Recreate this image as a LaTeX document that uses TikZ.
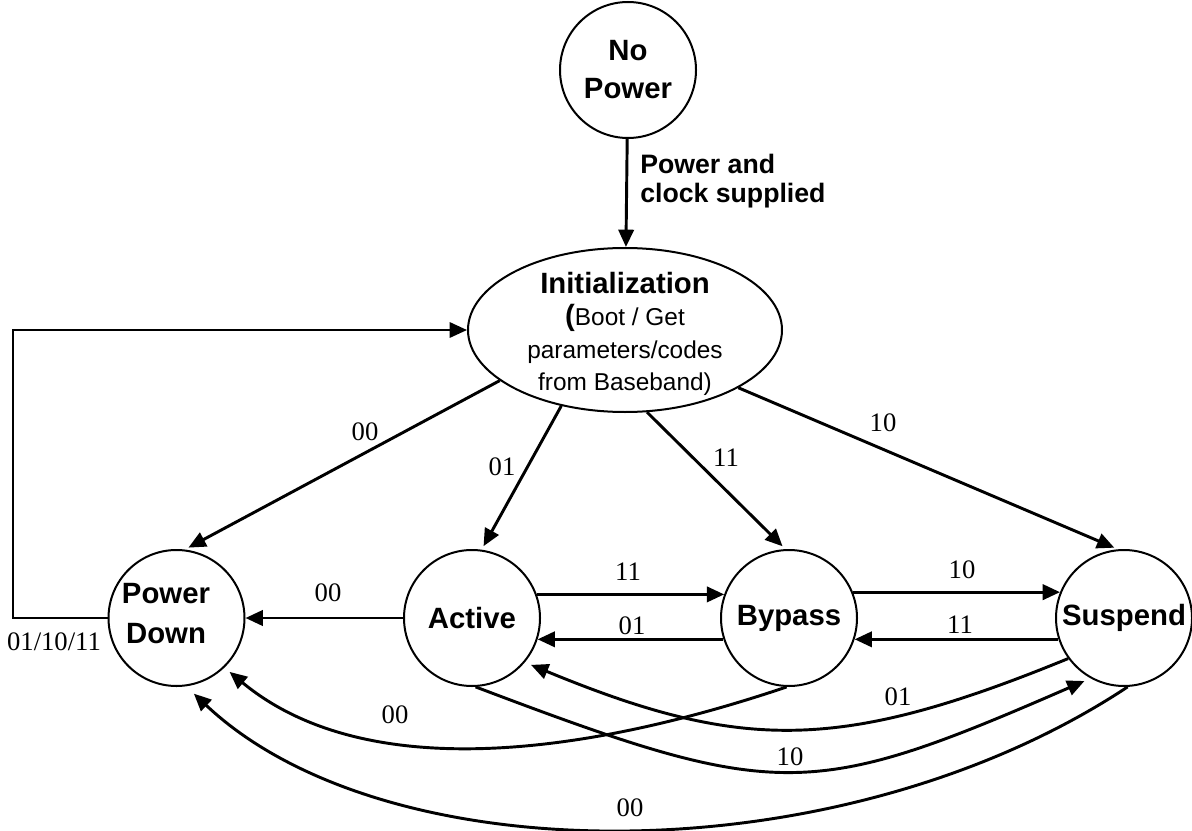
\documentclass[tikz,border=0pt]{standalone}
\usepackage{fontspec}
\setmainfont{Liberation Serif}
\setsansfont{Liberation Sans}
\usetikzlibrary{arrows.meta,shapes.geometric}
\begin{document}
\begin{tikzpicture}[x=0.75pt,y=-0.75pt,
  state/.style={circle,draw,line width=1.5pt,minimum size=102pt,inner sep=0pt,align=center,
    font=\sffamily\bfseries\fontsize{22}{28.5}\selectfont},
  trans/.style={line width=2.2pt,-{Triangle[length=13pt,width=11.5pt]}},
  lbl/.style={inner sep=0pt,font=\fontsize{20}{20}\selectfont}]
\useasboundingbox (0,0) rectangle (1192,831);
\fill[white] (0,0) rectangle (1192,831);
% states
\node[state] (np) at (628,70) {No\\Power};
\node[ellipse,draw,line width=1.5pt,minimum width=235.5pt,minimum height=123pt,inner sep=0pt] (init) at (625,330) {};
\node[align=center,inner sep=0pt,font=\sffamily\fontsize{18.3}{24.4}\selectfont] (inittxt) at (625,334)
  {{\bfseries\fontsize{22}{24.4}\selectfont Initialization}\\{\bfseries\fontsize{22}{24.4}\selectfont(}Boot / Get\\parameters/codes\\from Baseband)};
\node[state] (pd) at (176.5,618) {};
\node[align=center,inner sep=0pt,font=\sffamily\bfseries\fontsize{22}{30}\selectfont] (pdtxt) at (166,614) {Power\\Down};
\node[state] (act) at (472,618) {Active};
\node[state] (byp) at (789,618) {Bypass};
\node[state] (sus) at (1124,618) {Suspend};
% top arrow
\draw[trans] (np) -- (init);
\node[anchor=west,align=left,inner sep=0pt,font=\sffamily\bfseries\fontsize{20}{22}\selectfont] (pcs) at (640,181) {Power and\\clock supplied};
% from init
\draw[trans,shorten >=3pt] (init.202) -- (pd.83);
\draw[trans,shorten >=3pt] (init.230) -- (act.82);
\draw[trans,shorten >=3pt] (init.285) -- (byp.93);
\draw[trans,shorten >=3pt] (init.333) -- (sus.95);
\node[lbl] (l00a) at (365,432) {00};
\node[lbl] (l01a) at (502,467) {01};
\node[lbl] (l11a) at (726,458) {11};
\node[lbl] (l10a) at (883,423) {10};
% horizontal
\draw[trans] (act.20) -- (byp.160);
\draw[trans] (byp.198) -- (act.-18);
\draw[trans] (byp.22) -- (sus.158);
\draw[trans] (sus.198) -- (byp.-18);
\draw[trans] (act.west) -- (pd.east);
\node[lbl] (l11b) at (628,572) {11};
\node[lbl] (l01b) at (632,626) {01};
\node[lbl] (l10b) at (962,570) {10};
\node[lbl] (l11c) at (960,625) {11};
\node[lbl] (l00b) at (328,593) {00};
% loop
\coordinate (lc) at (13,0);
\draw[trans,line width=1.6pt] (pd.west) -- (pd.west -| lc) |- (init.west);
\node[lbl] (l011) at (54,642) {01/10/11};
% bottom curves
\draw[trans,shorten >=5pt] (byp.268) .. controls (570,760) and (360,780) .. (pd.314);
\draw[trans,shorten >=5pt] (sus.216) .. controls (840,752) and (742,752) .. (act.320);
\draw[trans,shorten >=5pt] (act.273) .. controls (777,801) and (809,801) .. (sus.241);
\draw[trans,shorten >=8pt] (sus.273) .. controls (842,876) and (387,876) .. (pd.278);
\node[lbl] (l00c) at (395,715) {00};
\node[lbl] (l01c) at (898,697) {01};
\node[lbl] (l10c) at (790,757) {10};
\node[lbl] (l00d) at (630,808) {00};
\end{tikzpicture}
\end{document}
